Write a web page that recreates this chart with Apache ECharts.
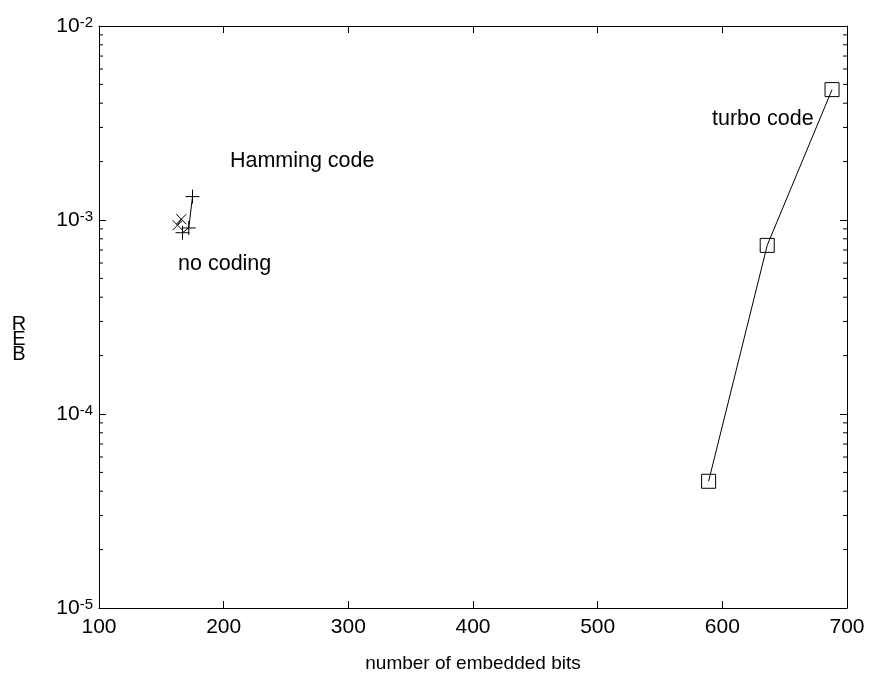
<!DOCTYPE html>
<html>
<head>
<meta charset="utf-8">
<script src="https://cdn.jsdelivr.net/npm/echarts@6/dist/echarts.min.js"></script>
<style>html,body{margin:0;padding:0;background:#fff;}#c{width:869px;height:678px;}</style>
</head>
<body>
<div id="c"></div>
<script>
// ---- data ----
var turboX = [589, 636, 688];
var turboY = [4.5e-5, 7.4e-4, 4.7e-3];
var hammingX = [167, 172, 175];
var hammingY = [8.6e-4, 9.1e-4, 1.32e-3];
var noCodingX = [163, 166];
var noCodingY = [9.4e-4, 1.01e-3];
var xTicks = [100, 200, 300, 400, 500, 600, 700];
var yMinorTicks = [2e-5,3e-5,4e-5,5e-5,6e-5,7e-5,8e-5,9e-5,
                   2e-4,3e-4,4e-4,5e-4,6e-4,7e-4,8e-4,9e-4,
                   2e-3,3e-3,4e-3,5e-3,6e-3,7e-3,8e-3,9e-3];
var annoText = ['Hamming code', 'no coding', 'turbo code'];
var annoX = [205, 163.4, 591.7];
var annoY = [2.02e-3, 5.9e-4, 3.33e-3];
var xName = 'number of embedded bits';
var yName = 'R\nE\nB';

function zip(xs, ys) { return xs.map(function (x, i) { return [x, ys[i]]; }); }

var FONT = 'Liberation Sans, Arial, sans-serif';
var chart = echarts.init(document.getElementById('c'));
var axisLine = { show: true, lineStyle: { color: '#000', width: 1 } };
var plusPath = 'path://M0,5L10,5M5,0L5,10';
var crossPath = 'path://M0,0L10,10M10,0L0,10';

chart.setOption({
  animation: false,
  backgroundColor: '#fff',
  grid: { left: 99, right: 22, top: 26, bottom: 61, containLabel: false },
  xAxis: [{
    type: 'value', min: xTicks[0], max: xTicks[xTicks.length - 1], interval: 100,
    position: 'bottom',
    axisLine: axisLine,
    axisTick: { show: true, inside: true, length: 7, lineStyle: { color: '#000' } },
    splitLine: { show: false },
    axisLabel: { margin: 9, fontSize: 21, color: '#000', fontFamily: FONT },
    name: xName, nameLocation: 'middle', nameGap: 46,
    nameTextStyle: { fontSize: 19, color: '#000', fontFamily: FONT }
  }, {
    type: 'value', min: xTicks[0], max: xTicks[xTicks.length - 1], interval: 100,
    position: 'top',
    axisLine: axisLine,
    axisTick: { show: true, inside: true, length: 7, lineStyle: { color: '#000' } },
    splitLine: { show: false },
    axisLabel: { show: false }
  }],
  yAxis: [{
    type: 'log', logBase: 10, min: 1e-5, max: 1e-2,
    position: 'left',
    axisLine: axisLine,
    axisTick: { show: true, inside: true, length: 7, lineStyle: { color: '#000' } },
    splitLine: { show: false },
    minorTick: { show: false },
    axisLabel: {
      margin: 6,
      formatter: function (v) { return '{b|10}{s|' + Math.round(Math.log10(v)) + '}'; },
      rich: {
        b: { fontSize: 21, lineHeight: 21, padding: [8, 0, 8, 0], color: '#000', fontFamily: FONT },
        s: { fontSize: 15, lineHeight: 15, verticalAlign: 'top', color: '#000', fontFamily: FONT }
      }
    },
    name: yName, nameLocation: 'middle', nameGap: 80, nameRotate: 0,
    nameTextStyle: { fontSize: 20, lineHeight: 15, verticalAlign: 'top', color: '#000', fontFamily: FONT, align: 'center' }
  }, {
    type: 'log', logBase: 10, min: 1e-5, max: 1e-2,
    position: 'right',
    axisLine: axisLine,
    axisTick: { show: true, inside: true, length: 7, lineStyle: { color: '#000' } },
    splitLine: { show: false },
    axisLabel: { show: false }
  }],
  series: [{
    type: 'custom', xAxisIndex: 0, yAxisIndex: 0, silent: true,
    data: yMinorTicks.map(function (v) { return [xTicks[0], v]; }),
    renderItem: function (params, api) {
      var v = api.value(1);
      var l = api.coord([xTicks[0], v]);
      var r = api.coord([xTicks[xTicks.length - 1], v]);
      var st = { stroke: '#000', lineWidth: 1 };
      return { type: 'group', children: [
        { type: 'line', shape: { x1: l[0], y1: l[1], x2: l[0] + 4, y2: l[1] }, style: st },
        { type: 'line', shape: { x1: r[0] - 4, y1: r[1], x2: r[0], y2: r[1] }, style: st }
      ] };
    }
  }, {
    type: 'line', name: 'turbo code', data: zip(turboX, turboY),
    symbol: 'rect', symbolSize: 14, showSymbol: true,
    lineStyle: { color: '#000', width: 1 },
    itemStyle: { color: 'none', borderColor: '#000', borderWidth: 1 }
  }, {
    type: 'line', name: 'Hamming code', data: zip(hammingX, hammingY),
    symbol: plusPath, symbolSize: 14,
    lineStyle: { color: '#000', width: 1 },
    itemStyle: { color: 'none', borderColor: '#000', borderWidth: 1 }
  }, {
    type: 'line', name: 'no coding', data: zip(noCodingX, noCodingY),
    symbol: crossPath, symbolSize: 10,
    lineStyle: { color: '#000', width: 1 },
    itemStyle: { color: 'none', borderColor: '#000', borderWidth: 1 }
  }, {
    type: 'scatter', name: 'annotations', silent: true,
    symbolSize: 0,
    itemStyle: { opacity: 1 },
    data: annoText.map(function (t, i) { return { name: t, value: [annoX[i], annoY[i]] }; }),
    label: {
      show: true, position: 'right', distance: 0,
      formatter: function (p) { return p.name; },
      fontSize: 21.5, color: '#000', opacity: 1, textBorderWidth: 0, fontFamily: FONT
    }
  }]
});
</script>
</body>
</html>
